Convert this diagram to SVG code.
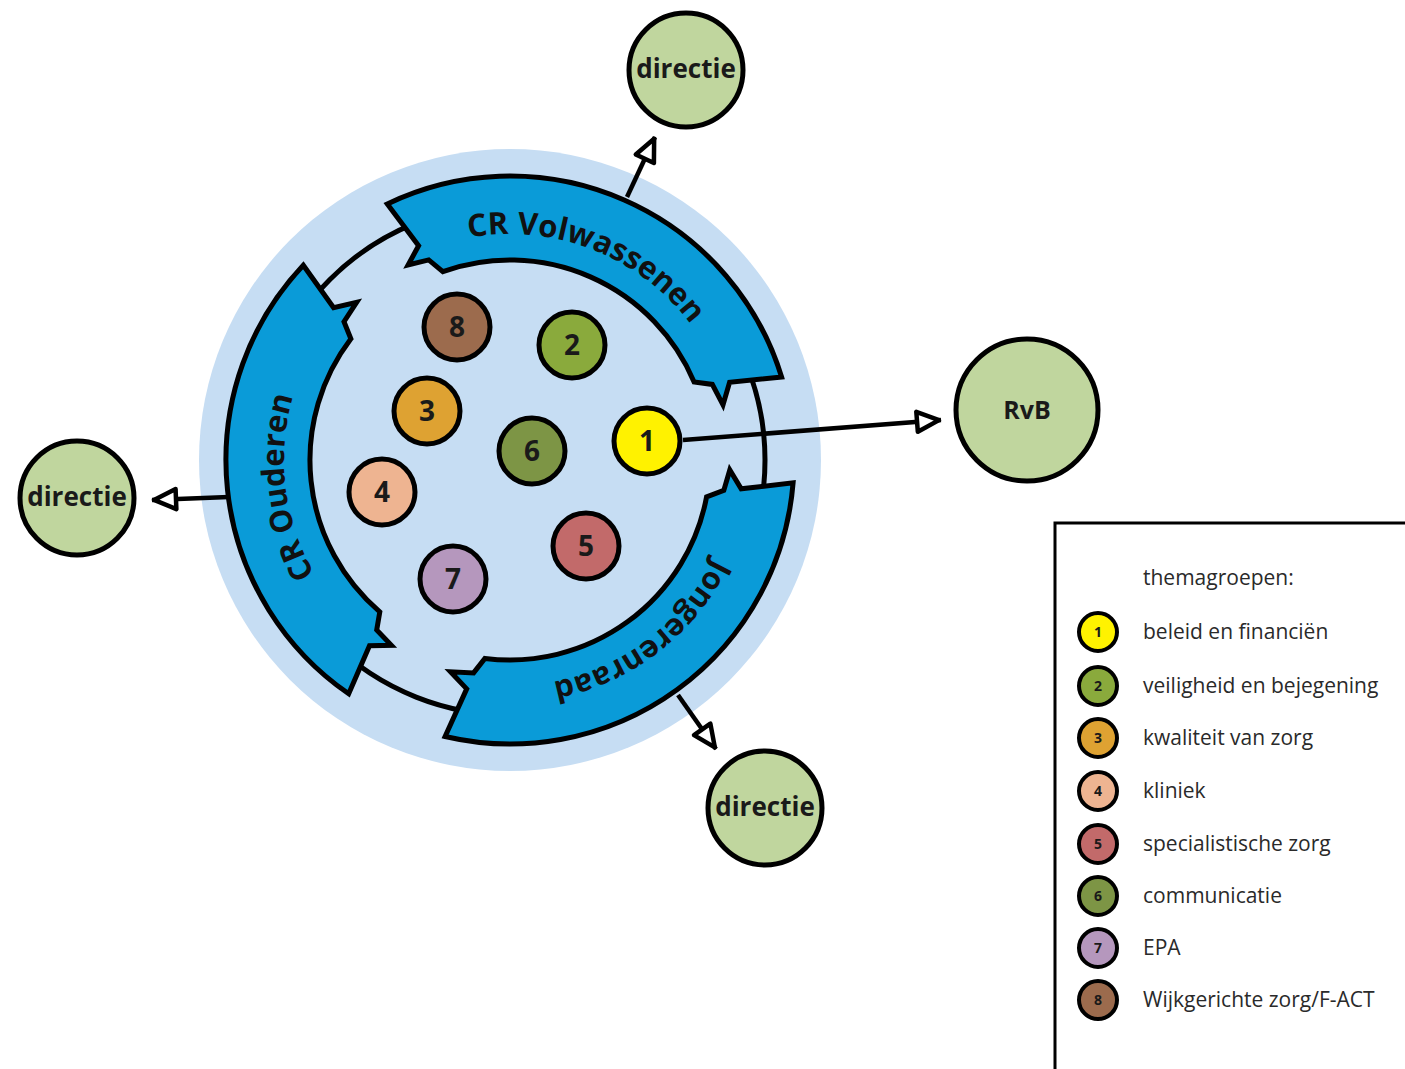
<svg xmlns="http://www.w3.org/2000/svg" width="1405" height="1069" viewBox="0 0 1405 1069">
<style>
.band{fill:#0a9bd8;stroke:#000;stroke-width:5;stroke-linejoin:miter}
.bandtxt{font-family:"Open Sans","Liberation Sans",sans-serif;font-weight:700;font-size:31px;fill:#111}
.tg circle{stroke:#000;stroke-width:5}
.tg text{font-family:"Open Sans","Liberation Sans",sans-serif;font-weight:700;font-size:28px;fill:#1a1a1a;text-anchor:middle}
.ext circle{fill:#c0d69e;stroke:#000;stroke-width:5}
.ext text{font-family:"Open Sans","Liberation Sans",sans-serif;font-weight:700;font-size:26px;fill:#1a1a1a;text-anchor:middle}
.conn{fill:none;stroke:#000;stroke-width:4.5;marker-end:url(#arr)}
.leg circle{stroke:#000;stroke-width:4}
.leg .n{font-family:"Open Sans","Liberation Sans",sans-serif;font-weight:700;font-size:14px;fill:#1a1a1a;text-anchor:middle}
.leg .t{font-family:"Open Sans","Liberation Sans",sans-serif;font-size:21px;fill:#2a2a2a}
</style>
<defs>
<marker id="arr" markerUnits="userSpaceOnUse" markerWidth="40" markerHeight="40" viewBox="-30 -20 40 40" refX="0" refY="0" orient="auto" overflow="visible">
<path d="M-2,0 L-24,-10 L-24,10 Z" fill="#fff" stroke="#000" stroke-width="4.5" stroke-linejoin="round"/>
</marker>
<path id="tpV" d="M401.5,261.8 A226,226 0 0 1 724.1,387.5"/>
<path id="tpO" d="M386.9,649.5 A226,226 0 0 1 344.7,305.9"/>
<path id="tpJ" d="M735.8,469.9 A226,226 0 0 1 461.1,680.6"/>
</defs>
<rect width="1405" height="1069" fill="#fff"/>
<g id="council-circle">
<circle cx="510" cy="460" r="311" fill="#c6ddf3"/>
<circle cx="510" cy="460" r="255" fill="none" stroke="#000" stroke-width="5"/>
</g>
<g id="cr-volwassenen">
<path class="band" d="M387.3,203.9 A284,284 0 0 1 781.6,377.0 L729.6,382.2 L723.0,404.9 L712.3,384.4 L694.1,381.9 A200,200 0 0 0 442.9,271.6 L428.7,259.9 L408.1,265.0 L418.6,245.7 Z"/>
<text class="bandtxt"><textPath href="#tpV" startOffset="50%" text-anchor="middle">CR Volwassenen</textPath></text>
</g>
<g id="jongerenraad">
<path class="band" d="M793.1,482.8 A284,284 0 0 1 445.1,736.5 L466.7,688.9 L450.5,671.8 L473.6,672.9 L484.9,658.4 A200,200 0 0 0 706.6,496.8 L723.8,490.4 L729.8,470.0 L741.2,488.8 Z"/>
<text class="bandtxt"><textPath href="#tpJ" startOffset="50%" text-anchor="middle">Jongerenraad</textPath></text>
</g>
<g id="cr-ouderen">
<path class="band" d="M348.7,693.8 A284,284 0 0 1 303.3,265.2 L333.6,307.8 L356.6,302.3 L344.0,321.7 L350.9,338.8 A200,200 0 0 0 379.8,611.9 L376.7,630.0 L391.4,645.3 L369.5,645.8 Z"/>
<text class="bandtxt"><textPath href="#tpO" startOffset="50%" text-anchor="middle">CR Ouderen</textPath></text>
</g>
<g id="tg8" class="tg"><circle cx="457" cy="327" r="33" fill="#9c6b4d"/><text x="457" y="337">8</text></g>
<g id="tg2" class="tg"><circle cx="572" cy="345" r="33" fill="#8aaa3c"/><text x="572" y="355">2</text></g>
<g id="tg3" class="tg"><circle cx="427" cy="411" r="33" fill="#dea232"/><text x="427" y="421">3</text></g>
<g id="tg6" class="tg"><circle cx="532" cy="451" r="33" fill="#7d9545"/><text x="532" y="461">6</text></g>
<g id="tg1" class="tg"><circle cx="647" cy="441" r="33" fill="#fff200"/><text x="647" y="451">1</text></g>
<g id="tg4" class="tg"><circle cx="382" cy="492" r="33" fill="#eeb491"/><text x="382" y="502">4</text></g>
<g id="tg5" class="tg"><circle cx="586" cy="546" r="33" fill="#c26a6a"/><text x="586" y="556">5</text></g>
<g id="tg7" class="tg"><circle cx="453" cy="579" r="33" fill="#b597bd"/><text x="453" y="589">7</text></g>
<g id="directie-top" class="ext"><circle cx="686" cy="70" r="57"/><text x="686" y="78">directie</text></g>
<g id="directie-left" class="ext"><circle cx="77" cy="498" r="57"/><text x="77" y="506">directie</text></g>
<g id="directie-bottom" class="ext"><circle cx="765" cy="808" r="57"/><text x="765" y="816">directie</text></g>
<g id="rvb" class="ext"><circle cx="1027" cy="410" r="71"/><text x="1027" y="419" style="font-size:25px">RvB</text></g>
<g id="connectors">
<path class="conn" d="M627,197 L655,137"/>
<path class="conn" d="M683,440 L941,420"/>
<path class="conn" d="M229,497 L152,500"/>
<path class="conn" d="M678,695 L716,749"/>
</g>
<g id="legend" class="leg">
<rect x="1055" y="523" width="400" height="600" fill="#fff" stroke="#000" stroke-width="3"/>
<text class="t" x="1143" y="585">themagroepen:</text>
<circle cx="1098" cy="632" r="19" fill="#fff200"/><text class="n" x="1098" y="637">1</text><text class="t" x="1143" y="639">beleid en financiën</text>
<circle cx="1098" cy="686" r="19" fill="#8aaa3c"/><text class="n" x="1098" y="691">2</text><text class="t" x="1143" y="693">veiligheid en bejegening</text>
<circle cx="1098" cy="738" r="19" fill="#dea232"/><text class="n" x="1098" y="743">3</text><text class="t" x="1143" y="745">kwaliteit van zorg</text>
<circle cx="1098" cy="791" r="19" fill="#eeb491"/><text class="n" x="1098" y="796">4</text><text class="t" x="1143" y="798">kliniek</text>
<circle cx="1098" cy="844" r="19" fill="#c26a6a"/><text class="n" x="1098" y="849">5</text><text class="t" x="1143" y="851">specialistische zorg</text>
<circle cx="1098" cy="896" r="19" fill="#7d9545"/><text class="n" x="1098" y="901">6</text><text class="t" x="1143" y="903">communicatie</text>
<circle cx="1098" cy="948" r="19" fill="#b597bd"/><text class="n" x="1098" y="953">7</text><text class="t" x="1143" y="955">EPA</text>
<circle cx="1098" cy="1000" r="19" fill="#9c6b4d"/><text class="n" x="1098" y="1005">8</text><text class="t" x="1143" y="1007">Wijkgerichte zorg/F-ACT</text>
</g>
</svg>
